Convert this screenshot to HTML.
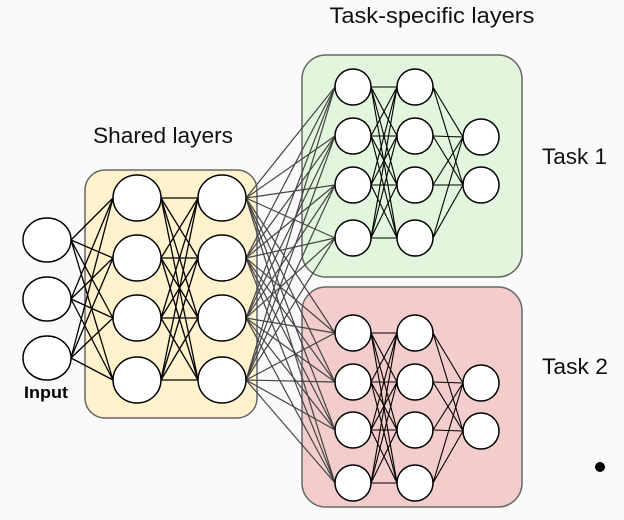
<!DOCTYPE html>
<html><head><meta charset="utf-8"><style>
html,body{margin:0;padding:0;background:#fafafa;}
svg{display:block;font-family:"Liberation Sans",sans-serif;}
</style></head><body>
<svg id="s" width="624" height="520" viewBox="0 0 624 520" xmlns="http://www.w3.org/2000/svg">
<rect x="0" y="0" width="624" height="520" fill="#fafafa"/>
<rect x="85" y="170" width="172" height="248" rx="20" fill="#fff2cc" stroke="#666" stroke-width="1.5"/>
<rect x="302" y="55" width="220" height="222" rx="24" fill="#e1f6dc" stroke="#666" stroke-width="1.5"/>
<rect x="302" y="287" width="220" height="220" rx="24" fill="#f3cccc" stroke="#666" stroke-width="1.5"/>
<g id="lines"></g>
<g id="nodes" fill="#fff" stroke="#000" stroke-width="1.5"></g>
<text x="432" y="23" font-size="22" text-anchor="middle" fill="#111" textLength="205" lengthAdjust="spacingAndGlyphs">Task-specific layers</text>
<text x="163" y="143" font-size="22" text-anchor="middle" fill="#111" textLength="140" lengthAdjust="spacingAndGlyphs">Shared layers</text>
<text x="542" y="164" font-size="22" fill="#111" textLength="65" lengthAdjust="spacingAndGlyphs">Task 1</text>
<text x="542" y="374" font-size="22" fill="#111" textLength="66" lengthAdjust="spacingAndGlyphs">Task 2</text>
<text x="46" y="398" font-size="17" font-weight="bold" text-anchor="middle" fill="#000" textLength="44" lengthAdjust="spacingAndGlyphs">Input</text>
<circle cx="600" cy="467" r="5" fill="#000"/>
</svg>
<script>
var NS="http://www.w3.org/2000/svg";
var L=document.getElementById("lines"),N=document.getElementById("nodes");
function col(x,ys,rx,ry){return ys.map(function(y){return{x:x,y:y,rx:rx,ry:ry};});}
var inp=col(47,[240,299,358],24,22);
var s1=col(137,[198,258,318,380],24,23),s2=col(222,[198,258,318,380],24,23);
var a1=col(353,[87,136,185,238],18,18),a2=col(415,[87,136,185,238],18,18),a3=col(481,[137,185],18,18);
var b1=col(353,[333,382,430,483],18,18),b2=col(415,[333,382,430,483],18,18),b3=col(481,[383,431],18,18);
function conn(A,B,c,w){A.forEach(function(a){B.forEach(function(b){var l=document.createElementNS(NS,"line");
l.setAttribute("x1",a.x+a.rx);l.setAttribute("y1",a.y);l.setAttribute("x2",b.x-b.rx);l.setAttribute("y2",b.y);
l.setAttribute("stroke",c);l.setAttribute("stroke-width",w);L.appendChild(l);});});}
conn(inp,s1,"#000",1.3);conn(s1,s2,"#000",1.3);
conn(s2,a1.concat(b1),"#444",1.2);
conn(a1,a2,"#000",1.1);conn(a2,a3,"#000",1.1);conn(b1,b2,"#000",1.1);conn(b2,b3,"#000",1.1);
[inp,s1,s2,a1,a2,a3,b1,b2,b3].forEach(function(C){C.forEach(function(n){var e=document.createElementNS(NS,"ellipse");
e.setAttribute("cx",n.x);e.setAttribute("cy",n.y);e.setAttribute("rx",n.rx);e.setAttribute("ry",n.ry);N.appendChild(e);});});
</script>
</body></html>
